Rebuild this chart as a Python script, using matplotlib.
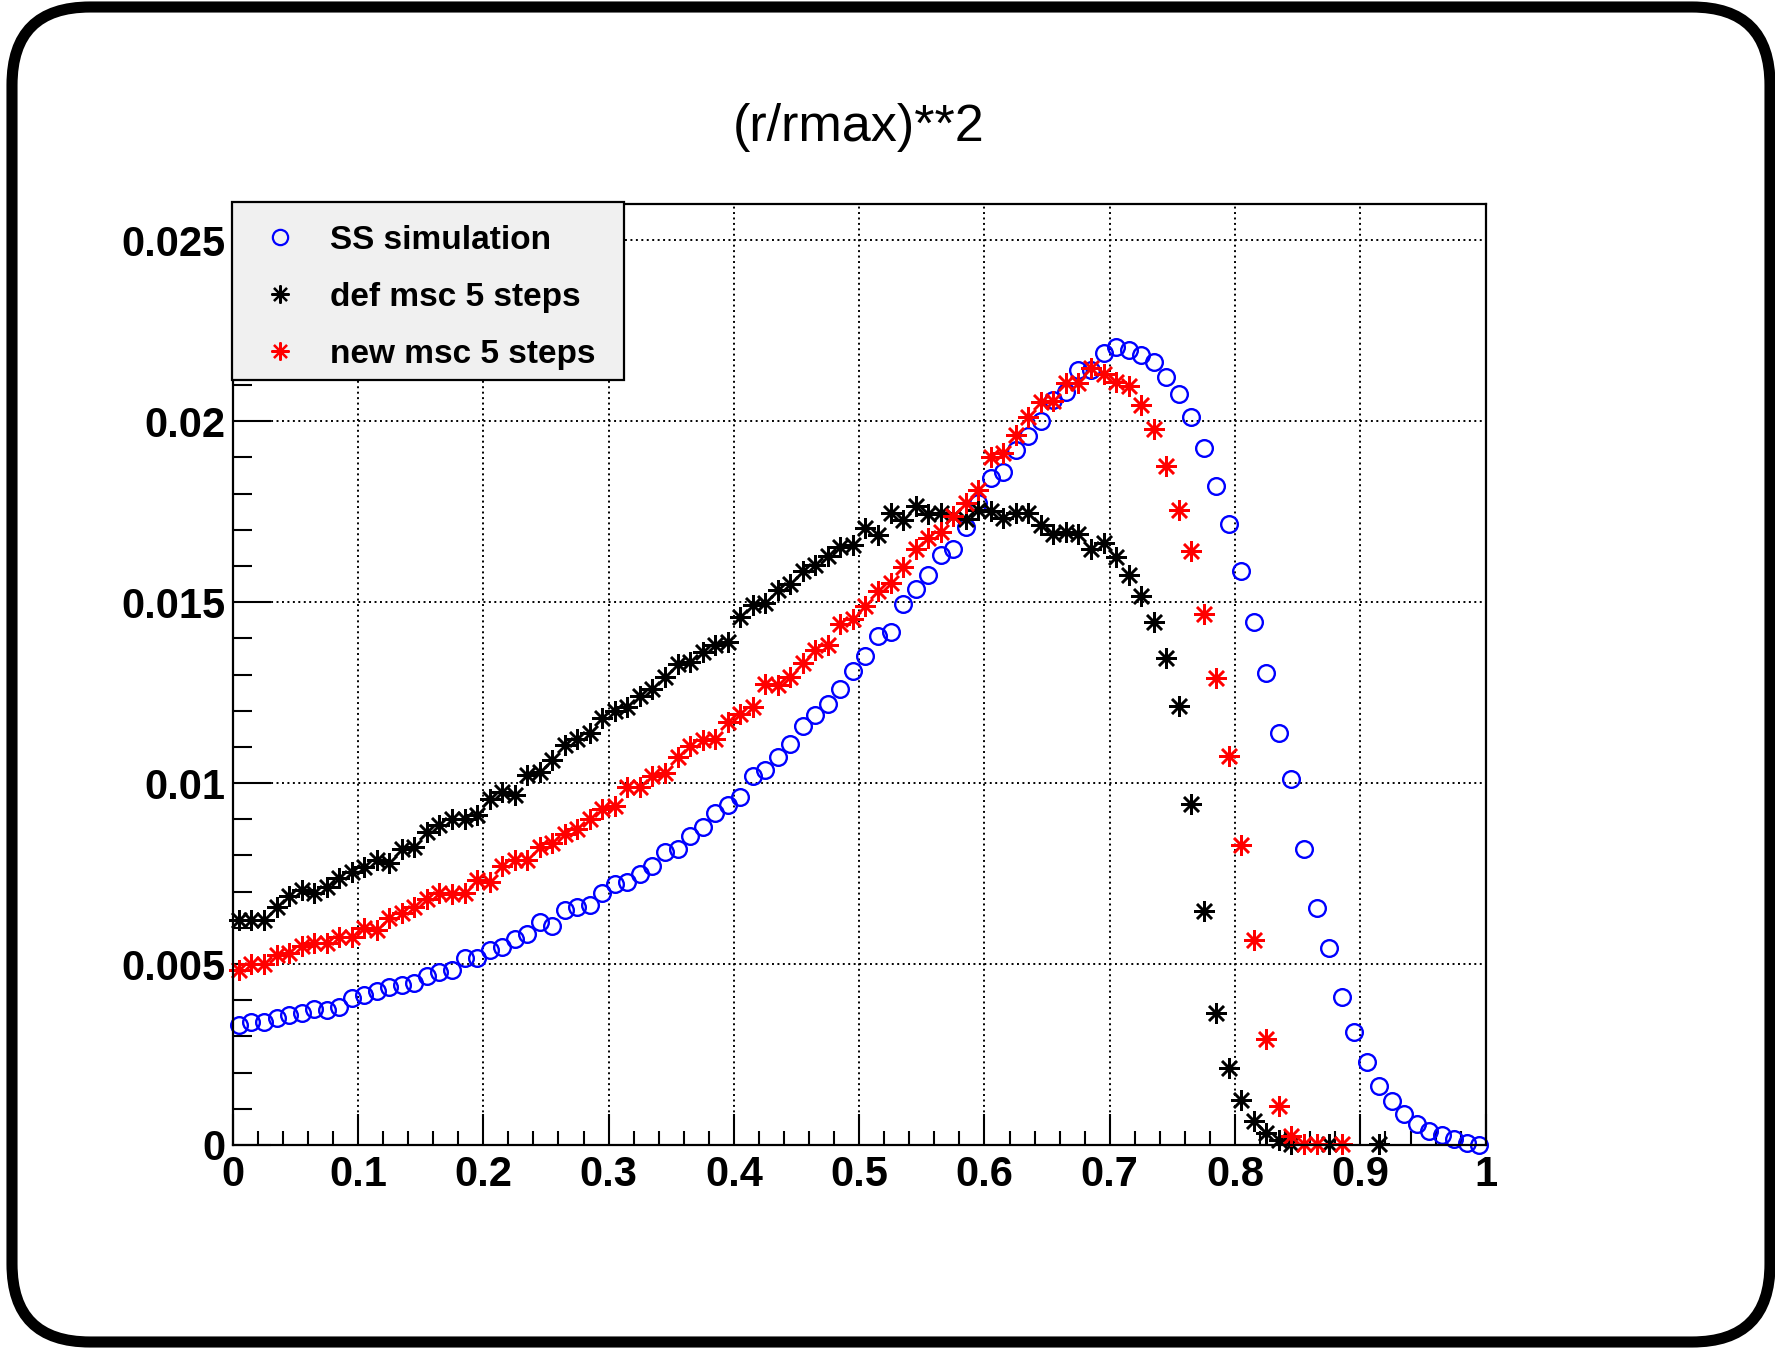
import numpy as np
import matplotlib
matplotlib.use("Agg")
import matplotlib.pyplot as plt
from matplotlib.patches import FancyBboxPatch, Rectangle
from matplotlib.lines import Line2D
from matplotlib.ticker import MultipleLocator, FixedLocator, FixedFormatter

# ---- histogram contents (100 bins on [0, 1]) ----
n_bins = 100
x_lo, x_hi = 0.0, 1.0

ss_simulation = [
    0.00331, 0.00341, 0.00341, 0.00350, 0.00359, 0.00366, 0.00375, 0.00373, 0.00380, 0.00405,
    0.00414, 0.00425, 0.00436, 0.00442, 0.00448, 0.00467, 0.00479, 0.00483, 0.00516, 0.00518,
    0.00540, 0.00548, 0.00568, 0.00582, 0.00615, 0.00606, 0.00649, 0.00658, 0.00663, 0.00697,
    0.00721, 0.00727, 0.00750, 0.00771, 0.00810, 0.00817, 0.00854, 0.00879, 0.00916, 0.00939,
    0.00962, 0.01019, 0.01036, 0.01073, 0.01109, 0.01157, 0.01188, 0.01218, 0.01260, 0.01309,
    0.01351, 0.01406, 0.01418, 0.01494, 0.01535, 0.01575, 0.01630, 0.01646, 0.01708, 0.01773,
    0.01842, 0.01860, 0.01920, 0.01959, 0.02001, 0.02058, 0.02081, 0.02141, 0.02141, 0.02189,
    0.02205, 0.02196, 0.02182, 0.02164, 0.02122, 0.02075, 0.02012, 0.01925, 0.01821, 0.01715,
    0.01586, 0.01445, 0.01305, 0.01138, 0.01012, 0.00818, 0.00654, 0.00544, 0.00410, 0.00313,
    0.00228, 0.00163, 0.00122, 0.00087, 0.00057, 0.00040, 0.00027, 0.00016, 0.00005, 0.00001,
]

def_msc_5_steps = [
    0.00622, 0.00622, 0.00622, 0.00657, 0.00688, 0.00704, 0.00695, 0.00714, 0.00737, 0.00755,
    0.00769, 0.00787, 0.00780, 0.00817, 0.00824, 0.00865, 0.00884, 0.00902, 0.00902, 0.00912,
    0.00955, 0.00976, 0.00966, 0.01022, 0.01031, 0.01064, 0.01105, 0.01123, 0.01139, 0.01179,
    0.01200, 0.01209, 0.01240, 0.01259, 0.01292, 0.01329, 0.01335, 0.01363, 0.01381, 0.01390,
    0.01459, 0.01492, 0.01498, 0.01533, 0.01549, 0.01586, 0.01602, 0.01627, 0.01653, 0.01659,
    0.01704, 0.01685, 0.01747, 0.01728, 0.01765, 0.01743, 0.01747, 0.01738, 0.01731, 0.01754,
    0.01752, 0.01733, 0.01745, 0.01745, 0.01714, 0.01689, 0.01694, 0.01688, 0.01646, 0.01664,
    0.01626, 0.01575, 0.01516, 0.01445, 0.01346, 0.01213, 0.00943, 0.00646, 0.00366, 0.00214,
    0.00123, 0.00065, 0.00033, 0.00015, 0.00003, None, None, 0.00002, None, None,
    None, 0.00002, None, None, None, None, None, None, None, None,
]

new_msc_5_steps = [
    0.00483, 0.00499, 0.00499, 0.00525, 0.00530, 0.00550, 0.00559, 0.00559, 0.00575, 0.00575,
    0.00599, 0.00594, 0.00626, 0.00640, 0.00657, 0.00679, 0.00697, 0.00693, 0.00695, 0.00732,
    0.00727, 0.00771, 0.00788, 0.00787, 0.00822, 0.00835, 0.00859, 0.00872, 0.00902, 0.00927,
    0.00936, 0.00988, 0.00988, 0.01019, 0.01028, 0.01071, 0.01102, 0.01119, 0.01123, 0.01169,
    0.01191, 0.01211, 0.01275, 0.01271, 0.01292, 0.01331, 0.01367, 0.01381, 0.01439, 0.01452,
    0.01489, 0.01531, 0.01553, 0.01596, 0.01646, 0.01676, 0.01694, 0.01738, 0.01773, 0.01809,
    0.01900, 0.01911, 0.01961, 0.02012, 0.02053, 0.02056, 0.02106, 0.02106, 0.02146, 0.02130,
    0.02109, 0.02097, 0.02044, 0.01977, 0.01876, 0.01754, 0.01641, 0.01467, 0.01291, 0.01075,
    0.00829, 0.00567, 0.00292, 0.00109, 0.00025, 0.00004, 0.00003, None, 0.00003, None,
    None, None, None, None, None, None, None, None, None, None,
]

series_labels = ["SS simulation", "def msc 5 steps", "new msc 5 steps"]
title_text = "(r/rmax)**2"
x_ticks = [0.0, 0.1, 0.2, 0.3, 0.4, 0.5, 0.6, 0.7, 0.8, 0.9, 1.0]
x_tick_labels = ["0", "0.1", "0.2", "0.3", "0.4", "0.5", "0.6", "0.7", "0.8", "0.9", "1"]
y_ticks = [0.0, 0.005, 0.01, 0.015, 0.02, 0.025]
y_tick_labels = ["0", "0.005", "0.01", "0.015", "0.02", "0.025"]
y_max = 0.026

# ---- figure ----
W, H = 1775, 1348
fig = plt.figure(figsize=(W / 100, H / 100), dpi=100)
fig.patch.set_facecolor("white")

# rounded outer frame, drawn in pixel units
bg = fig.add_axes([0, 0, 1, 1], zorder=-5)
bg.set_xlim(0, W)
bg.set_ylim(0, H)
bg.axis("off")
bg.add_patch(FancyBboxPatch((12, 6), 1758, 1335,
                            boxstyle="round,pad=0,rounding_size=78",
                            facecolor="white", edgecolor="black", linewidth=8))

ax = fig.add_axes([232.7 / W, 1 - 1145 / H, (1485.7 - 232.7) / W, (1145 - 204) / H])
ax.set_facecolor("white")

edges = np.linspace(x_lo, x_hi, n_bins + 1)
centers = 0.5 * (edges[:-1] + edges[1:])

ss = np.array(ss_simulation, dtype=float)
dm = np.array(def_msc_5_steps, dtype=float)
nm = np.array(new_msc_5_steps, dtype=float)

star = (8, 2, 0)
ax.plot(centers, ss, ls="none", marker="o", ms=12, mfc="none", mec="#0000ff",
        mew=1.7, clip_on=False, zorder=3)
ax.plot(centers, dm, ls="none", marker=star, ms=15, mec="black", mfc="black",
        mew=1.8, clip_on=False, zorder=4)
ax.plot(centers, nm, ls="none", marker=star, ms=15, mec="#ff0000", mfc="#ff0000",
        mew=1.8, clip_on=False, zorder=5)

ax.set_xlim(x_lo, x_hi)
ax.set_ylim(0, y_max)

ax.xaxis.set_major_locator(FixedLocator(x_ticks))
ax.xaxis.set_major_formatter(FixedFormatter(x_tick_labels))
ax.xaxis.set_minor_locator(MultipleLocator(0.02))
ax.yaxis.set_major_locator(FixedLocator(y_ticks))
ax.yaxis.set_major_formatter(FixedFormatter(y_tick_labels))
ax.yaxis.set_minor_locator(MultipleLocator(0.001))

ax.grid(True, which="major", color="black", linestyle=(0, (1.0, 1.8)), linewidth=1.4)
ax.set_axisbelow(True)

for s in ax.spines.values():
    s.set_linewidth(1.6)
    s.set_zorder(6)

ax.tick_params(axis="x", which="major", direction="in", length=22, width=1.5, pad=7.3,
               top=False)
ax.tick_params(axis="x", which="minor", direction="in", length=10, width=1.5, top=False)
ax.tick_params(axis="y", which="major", direction="in", length=27, width=1.5, pad=5.5,
               right=False)
ax.tick_params(axis="y", which="minor", direction="in", length=14, width=1.5, right=False)

for lab in ax.get_xticklabels() + ax.get_yticklabels():
    lab.set_fontfamily("Liberation Sans")
    lab.set_fontweight("bold")
    lab.set_fontsize(30)

fig.text(859 / W, 1 - 128 / H, title_text, ha="center", va="center",
         fontsize=37.5, family="Liberation Sans")

# legend box (grey panel with black border)
leg_box = Rectangle((232 / W, 1 - 380 / H), 392 / W, 178 / H,
                    transform=fig.transFigure, facecolor="#f0f0f0",
                    edgecolor="black", linewidth=1.6, zorder=9, clip_on=False)
ax.add_artist(leg_box)

handles = [
    Line2D([], [], ls="none", marker="o", ms=11, mfc="none", mec="#0000ff", mew=1.6),
    Line2D([], [], ls="none", marker=star, ms=13, mec="black", mew=1.6),
    Line2D([], [], ls="none", marker=star, ms=13, mec="#ff0000", mew=1.6),
]
leg = ax.legend(handles, series_labels, loc="upper left",
                bbox_to_anchor=(232 / W, 1 - 386 / H, 392 / W, 178 / H),
                bbox_transform=fig.transFigure, mode="expand", borderaxespad=0,
                prop={"family": "Liberation Sans", "weight": "bold", "size": 24},
                frameon=False,
                borderpad=0.5, labelspacing=0.78, handlelength=1.9, handletextpad=0.55)
leg.set_zorder(10)

fig.savefig("out.png", dpi=100, facecolor="white")
